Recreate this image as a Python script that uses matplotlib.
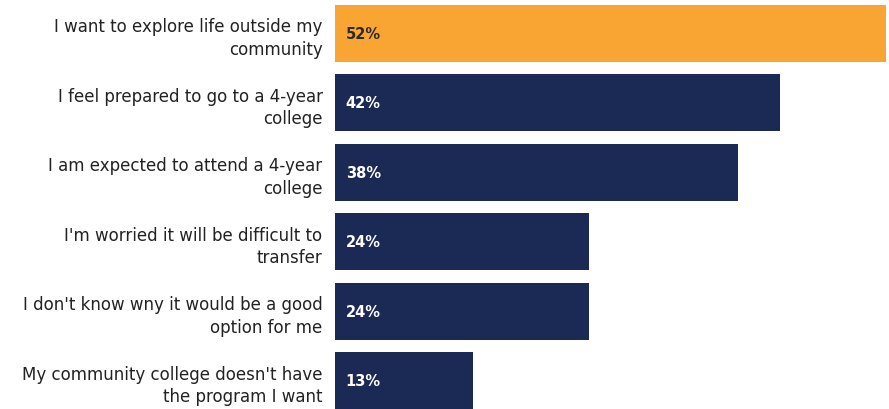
import matplotlib
matplotlib.use("Agg")
import matplotlib.pyplot as plt

reasons = [
    "I want to explore life outside my\ncommunity",
    "I feel prepared to go to a 4-year\ncollege",
    "I am expected to attend a 4-year\ncollege",
    "I'm worried it will be difficult to\ntransfer",
    "I don't know wny it would be a good\noption for me",
    "My community college doesn't have\nthe program I want",
]
shares = [52, 42, 38, 24, 24, 13]
value_labels = ["52%", "42%", "38%", "24%", "24%", "13%"]

ORANGE = "#F9A533"
NAVY = "#1B2A55"
colors = [ORANGE] + [NAVY] * (len(shares) - 1)
text_colors = ["#2a2a2a"] + ["white"] * (len(shares) - 1)

W, H = 889, 410
fig = plt.figure(figsize=(W / 100, H / 100), dpi=100)
ax = fig.add_axes([335 / W, 0, (W - 335) / W, 1])

ypos = list(range(len(shares)))
ax.barh(ypos, shares, height=0.82, color=colors)
ax.set_xlim(0, 52.3)
ax.set_ylim(5.41, -0.49)

for y, v, lab, tc in zip(ypos, shares, value_labels, text_colors):
    ax.text(1.0, y, lab, ha="left", va="center", fontsize=10.5,
            fontweight="bold", color=tc)

ax.set_yticks(ypos)
ax.set_yticklabels(reasons, fontsize=12.0, color="#222222", ha="right",
                   linespacing=1.35)
ax.tick_params(axis="y", length=0, pad=9)
ax.set_xticks([])
for s in ax.spines.values():
    s.set_visible(False)

fig.savefig("out.png", dpi=100)
